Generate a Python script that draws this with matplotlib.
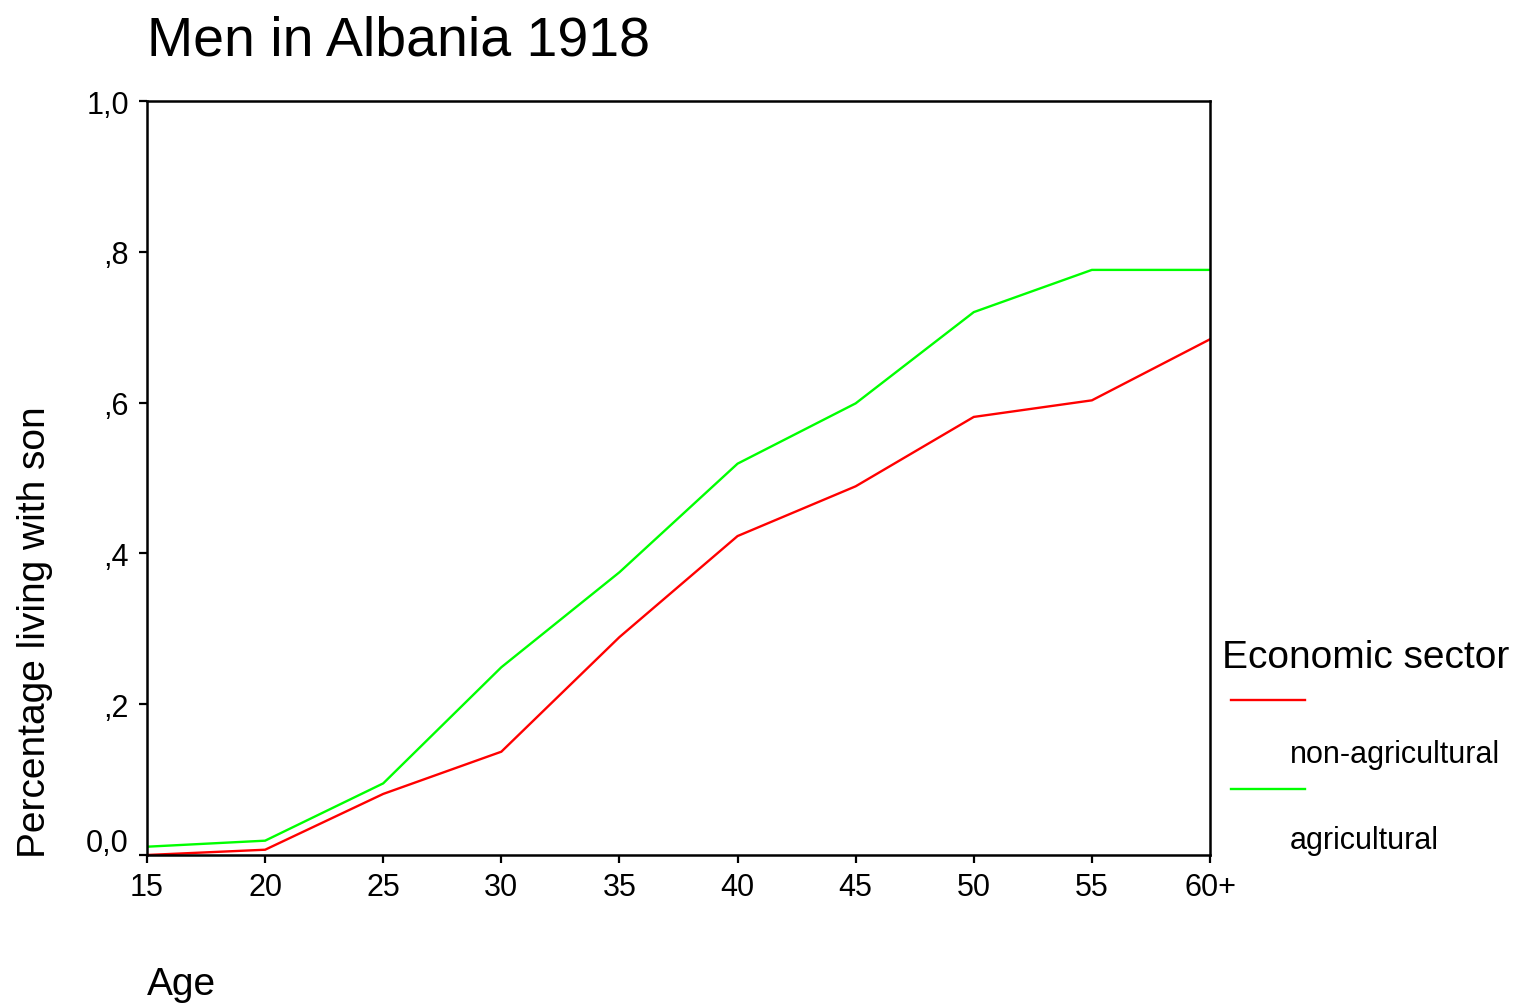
import matplotlib

matplotlib.use("Agg")
import matplotlib.pyplot as plt
import matplotlib.transforms as mtransforms
from matplotlib.lines import Line2D

plt.rcParams["font.family"] = ["Liberation Sans", "DejaVu Sans"]

# ---------------------------------------------------------------------------
# Data
# ---------------------------------------------------------------------------
age_labels = ["15", "20", "25", "30", "35", "40", "45", "50", "55", "60+"]
non_agricultural = [0.000, 0.007, 0.081, 0.137, 0.289, 0.423, 0.489, 0.581, 0.603, 0.684]
agricultural = [0.011, 0.019, 0.095, 0.249, 0.375, 0.519, 0.599, 0.720, 0.776, 0.776]
y_ticks = [0.0, 0.2, 0.4, 0.6, 0.8, 1.0]
y_tick_labels = ["0,0", ",2", ",4", ",6", ",8", "1,0"]

RED = "#ff0000"
GREEN = "#00ff00"

W, H = 1515, 1004
fig = plt.figure(figsize=(W / 100, H / 100), dpi=100)
ax = fig.add_axes([147 / W, 1 - 856 / H, (1210 - 147) / W, (856 - 102) / H])

x = list(range(len(age_labels)))
ax.plot(x, non_agricultural, color=RED, linewidth=1.7, solid_joinstyle="miter")
ax.plot(x, agricultural, color=GREEN, linewidth=1.7, solid_joinstyle="miter")

ax.set_xlim(0, len(age_labels) - 1)
ax.set_ylim(0, 1)
ax.set_xticks(x)
ax.set_xticklabels(age_labels)
ax.set_yticks(y_ticks)
ax.set_yticklabels(y_tick_labels)
ax.tick_params(direction="out", length=6, width=1.6, labelsize=22, pad=6, colors="black")
ax.tick_params(axis="y", pad=7)
for sp in ax.spines.values():
    sp.set_linewidth(1.8)
    sp.set_color("black")

# SPSS nudges the bottom y label up so it clears the x labels
lbl0 = ax.get_yticklabels()[0]
lbl0.set_transform(lbl0.get_transform() + mtransforms.ScaledTranslation(0, 15 / 100, fig.dpi_scale_trans))

# titles and axis labels placed like the SPSS layout
fig.text(147 / W, 1 - 55 / H, "Men in Albania 1918", fontsize=40, va="baseline", ha="left")
fig.text(147 / W, 1 - 995 / H, "Age", fontsize=28, va="baseline", ha="left")
fig.text(35 / W, 1 - 858 / H, "Percentage living with son", fontsize=28,
         rotation=90, va="bottom", ha="center")

# legend drawn by hand
fig.text(1222 / W, 1 - 668 / H, "Economic sector", fontsize=28, va="baseline", ha="left")
for y_line, y_text, label, color in [
    (701, 763, "non-agricultural", RED),
    (790, 849, "agricultural", GREEN),
]:
    fig.add_artist(Line2D([1231 / W, 1305 / W], [1 - y_line / H, 1 - y_line / H],
                          color=color, linewidth=1.7, transform=fig.transFigure))
    fig.text(1290 / W, 1 - y_text / H, label, fontsize=22, va="baseline", ha="left")

fig.savefig("out.png", dpi=100, facecolor="white")
